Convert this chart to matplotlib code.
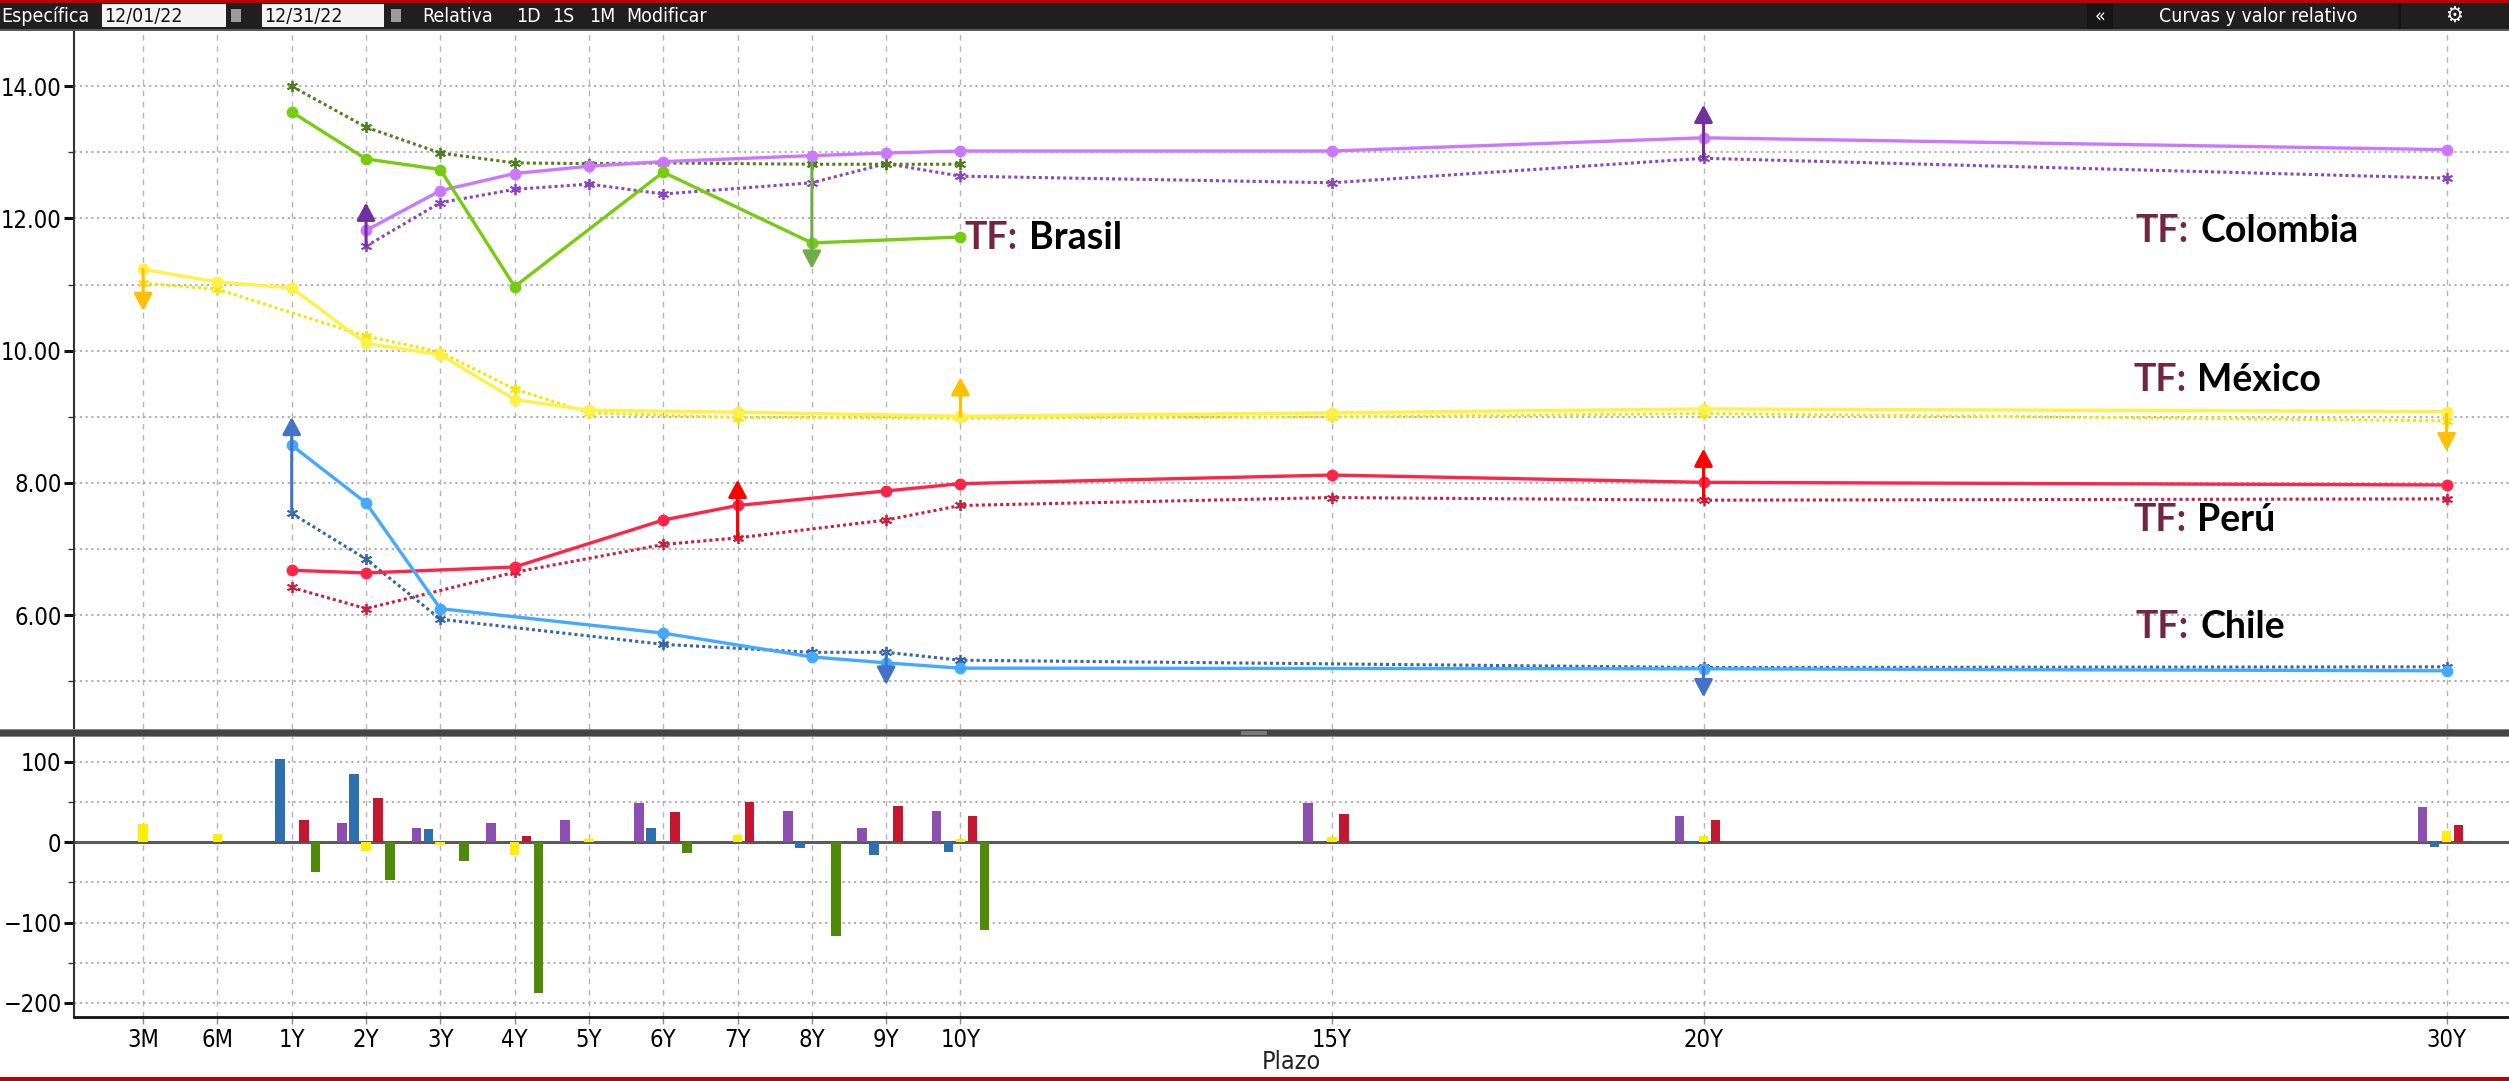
import matplotlib
matplotlib.use('Agg')
import matplotlib.pyplot as plt
from matplotlib import font_manager
from matplotlib.patches import Rectangle
from matplotlib.ticker import FixedLocator, FormatStrFormatter, NullFormatter

# --- datos ---
plazos = ['3M', '6M', '1Y', '2Y', '3Y', '4Y', '5Y', '6Y', '7Y', '8Y', '9Y', '10Y', '15Y', '20Y', '30Y']
plazo_pos = [-1, 0, 1, 2, 3, 4, 5, 6, 7, 8, 9, 10, 15, 20, 30]

colombia_tenores = ['2Y', '3Y', '4Y', '5Y', '6Y', '8Y', '9Y', '10Y', '15Y', '20Y', '30Y']
colombia_actual = [11.82, 12.42, 12.68, 12.79, 12.86, 12.95, 12.99, 13.02, 13.02, 13.22, 13.04]
colombia_previo = [11.58, 12.24, 12.44, 12.52, 12.37, 12.54, 12.83, 12.64, 12.54, 12.91, 12.61]

brasil_tenores = ['1Y', '2Y', '3Y', '4Y', '6Y', '8Y', '10Y']
brasil_actual = [13.61, 12.90, 12.74, 10.97, 12.70, 11.63, 11.72]
brasil_tenores_previo = ['1Y', '2Y', '3Y', '4Y', '5Y', '6Y', '8Y', '9Y', '10Y']
brasil_previo = [14.00, 13.38, 12.99, 12.84, 12.83, 12.84, 12.82, 12.82, 12.82]

mexico_tenores = ['3M', '6M', '1Y', '2Y', '3Y', '4Y', '5Y', '7Y', '10Y', '15Y', '20Y', '30Y']
mexico_actual = [11.23, 11.04, 10.95, 10.11, 9.94, 9.26, 9.10, 9.07, 9.01, 9.06, 9.12, 9.08]
mexico_tenores_previo = ['3M', '6M', '2Y', '3Y', '4Y', '5Y', '7Y', '10Y', '15Y', '20Y', '30Y']
mexico_previo = [11.02, 10.93, 10.22, 9.98, 9.42, 9.06, 8.99, 8.98, 9.00, 9.05, 8.94]

peru_tenores = ['1Y', '2Y', '4Y', '6Y', '7Y', '9Y', '10Y', '15Y', '20Y', '30Y']
peru_actual = [6.68, 6.64, 6.73, 7.44, 7.66, 7.88, 7.99, 8.12, 8.01, 7.97]
peru_previo = [6.42, 6.10, 6.65, 7.07, 7.17, 7.44, 7.66, 7.78, 7.74, 7.76]

chile_tenores = ['1Y', '2Y', '3Y', '6Y', '8Y', '9Y', '10Y', '20Y', '30Y']
chile_actual = [8.57, 7.70, 6.10, 5.73, 5.37, 5.28, 5.20, 5.19, 5.16]
chile_previo = [7.54, 6.85, 5.94, 5.56, 5.44, 5.44, 5.32, 5.21, 5.22]

# cambios en pb (panel inferior)
pb_colombia_tenores = ['2Y', '3Y', '4Y', '5Y', '6Y', '8Y', '9Y', '10Y', '15Y', '20Y', '30Y']
pb_colombia = [24, 17, 24, 27, 49, 39, 17, 39, 49, 32, 44]
pb_chile_tenores = ['1Y', '2Y', '3Y', '6Y', '8Y', '9Y', '10Y', '20Y', '30Y']
pb_chile = [104, 85, 16, 17, -7, -16, -12, -2.5, -6]
pb_mexico_tenores = ['3M', '6M', '2Y', '3Y', '4Y', '5Y', '7Y', '10Y', '15Y', '20Y', '30Y']
pb_mexico = [22, 10, -11, -4, -16, 4, 9, 4, 6, 7.5, 14]
pb_peru_tenores = ['1Y', '2Y', '4Y', '6Y', '7Y', '9Y', '10Y', '15Y', '20Y', '30Y']
pb_peru = [27, 55, 7.5, 37, 50, 45, 32, 35, 27, 21]
pb_brasil_tenores = ['1Y', '2Y', '3Y', '4Y', '6Y', '8Y', '10Y']
pb_brasil = [-37, -47, -24, -188, -14, -117, -109]

# flechas de anotacion: plazo, desde, hasta
flecha_tenores = ['3M', '10Y', '30Y', '2Y', '20Y', '1Y', '9Y', '20Y', '7Y', '20Y', '8Y']
flecha_desde = [11.23, 9.01, 9.04, 11.58, 12.91, 7.54, 5.44, 5.21, 7.17, 7.74, 12.83]
flecha_hasta = [10.60, 9.60, 8.48, 12.24, 13.72, 9.00, 4.95, 4.76, 8.05, 8.52, 11.24]
flecha_colores = ['#FFC000', '#FFC000', '#FFC000', '#7030A0', '#7030A0', '#4472C4',
                  '#4472C4', '#4472C4', '#FF0000', '#FF0000', '#70AD47']

pos = dict(zip(plazos, plazo_pos))


def px(tenores):
    return [pos[t] for t in tenores]


# fuente estrecha para ejes (tipo terminal), con alternativas
fuentes = font_manager.fontManager.ttflist
nombres = {f.name for f in fuentes}
estirado = 'normal'
if 'Liberation Sans Narrow' in nombres:
    fuente_ui = 'Liberation Sans Narrow'
elif any(f.name == 'DejaVu Sans' and f.stretch == 'condensed' for f in fuentes):
    fuente_ui = 'DejaVu Sans'
    estirado = 'condensed'
else:
    fuente_ui = 'Roboto' if 'Roboto' in nombres else 'DejaVu Sans'
fuente_tf = 'Lato' if 'Lato' in nombres else 'DejaVu Sans'
plt.rcParams['font.family'] = [fuente_ui, 'DejaVu Sans']
plt.rcParams['font.stretch'] = estirado

W, H = 2509, 1081
fig = plt.figure(figsize=(W / 100, H / 100), dpi=100)
fig.patch.set_facecolor('white')


def fy(ypix):
    return 1 - ypix / H


izq = 74 / W
ax1 = fig.add_axes([izq, fy(729), 1 - izq, fy(30) - fy(729)])
ax2 = fig.add_axes([izq, fy(1017), 1 - izq, fy(736) - fy(1017)], sharex=ax1)

xlim = (-1.93, 30.84)

# --- panel superior: curvas ---
series = [
    (mexico_tenores, mexico_actual, mexico_tenores_previo, mexico_previo, '#fff04a', '#f5e600'),
    (colombia_tenores, colombia_actual, colombia_tenores, colombia_previo, '#cc77ff', '#8e44c0'),
    (brasil_tenores, brasil_actual, brasil_tenores_previo, brasil_previo, '#77cc11', '#4d7f1a'),
    (peru_tenores, peru_actual, peru_tenores, peru_previo, '#ff2448', '#c8203f'),
    (chile_tenores, chile_actual, chile_tenores, chile_previo, '#44aaff', '#3366aa'),
]
for ten, act, ten_p, prev, c_act, c_prev in series:
    ax1.plot(px(ten_p), prev, linestyle=(0, (1, 1)), color=c_prev, lw=2.2,
             marker=(6, 2, 0), markersize=8, markeredgewidth=1.3, zorder=3)
    ax1.plot(px(ten), act, '-', color=c_act, lw=2.4, marker='o', markersize=7.5, zorder=4)

for t, a, b, c in zip(flecha_tenores, flecha_desde, flecha_hasta, flecha_colores):
    ax1.annotate('', xy=(pos[t], b), xytext=(pos[t], a),
                 arrowprops=dict(arrowstyle='-|>,head_length=0.75,head_width=0.4',
                                 color=c, lw=2.2, mutation_scale=14,
                                 shrinkA=0, shrinkB=0), zorder=5)

ax1.set_xlim(*xlim)
ax1.set_ylim(4.28, 14.85)
ax1.yaxis.set_major_locator(FixedLocator([6, 8, 10, 12, 14]))
ax1.yaxis.set_minor_locator(FixedLocator([5, 7, 9, 11, 13]))
ax1.yaxis.set_major_formatter(FormatStrFormatter('%.2f'))
ax1.yaxis.set_minor_formatter(NullFormatter())
ax1.tick_params(axis='x', which='both', length=0, labelbottom=False)

# etiquetas TF
etiquetas = [('Brasil', 10.06, 11.70), ('Colombia', 25.82, 11.81), ('México', 25.78, 9.56),
             ('Perú', 25.78, 7.44), ('Chile', 25.82, 5.82)]
for nombre, x, y in etiquetas:
    t1 = ax1.text(x, y, 'TF:', color='#722642', fontsize=27, fontweight='bold',
                  family=fuente_tf, fontstretch='normal', va='center', ha='left', zorder=6)
    ax1.annotate(nombre, xy=(1, 0), xycoords=t1, xytext=(8, 0), textcoords='offset points',
                 color='black', fontsize=27, fontweight='bold', family=fuente_tf,
                 fontstretch='normal', va='bottom', ha='left', zorder=6)

# --- panel inferior: barras ---
ancho = 0.13
paso = 0.161
barras = [
    (pb_colombia_tenores, pb_colombia, -2, '#8a4fb0'),
    (pb_chile_tenores, pb_chile, -1, '#2e6fad'),
    (pb_mexico_tenores, pb_mexico, 0, '#ffee00'),
    (pb_peru_tenores, pb_peru, 1, '#c4162e'),
    (pb_brasil_tenores, pb_brasil, 2, '#4f8a0b'),
]
for ten, vals, k, c in barras:
    xs = [p + k * paso for p in px(ten)]
    ax2.bar(xs, vals, width=ancho, color=c, zorder=3)
ax2.axhline(0, color='#5a5a5a', lw=2.2, zorder=2)

ax2.set_ylim(-217.5, 132)
ax2.yaxis.set_major_locator(FixedLocator([-200, -100, 0, 100]))
ax2.yaxis.set_minor_locator(FixedLocator([-150, -50, 50]))
ax2.yaxis.set_minor_formatter(NullFormatter())
ax2.set_xticks(plazo_pos)
ax2.set_xticklabels(plazos)
ax2.tick_params(axis='x', which='major', length=5, width=1, color='#888888',
                labelsize=17, pad=3)

for ax in (ax1, ax2):
    ax.set_facecolor('white')
    ax.grid(axis='x', which='major', linestyle=(0, (4, 4)), color='#b4b4b4', lw=1, zorder=0)
    ax.grid(axis='y', which='both', linestyle=(0, (1.2, 2)), color='#a8a8a8', lw=1.3, zorder=0)
    ax.tick_params(axis='y', which='major', length=7, width=2.2, direction='out',
                   color='#111111', labelsize=17, pad=2)
    ax.tick_params(axis='y', which='minor', length=4, width=1, color='#333333')
    for s in ('top', 'right'):
        ax.spines[s].set_visible(False)
    ax.spines['left'].set_color('#333333')
    ax.spines['left'].set_linewidth(1.5)
ax1.spines['bottom'].set_visible(False)
ax2.spines['bottom'].set_color('#111111')
ax2.spines['bottom'].set_linewidth(2)


# --- barra superior y separadores ---
def rect(x0, y0, x1, y1, color, z=10):
    fig.patches.append(Rectangle((x0 / W, fy(y1)), (x1 - x0) / W, (y1 - y0) / H,
                                 transform=fig.transFigure, facecolor=color,
                                 edgecolor='none', zorder=z))


rect(0, 0, W, 30, '#1f1f1f')
rect(0, 0, W, 3, '#c40000', 11)
rect(0, 29, W, 31, '#5a5a5a', 11)
rect(0, 729, W, 737, '#444444', 11)
rect(0, 729, W, 730, '#888888', 12)
rect(0, 736, W, 737, '#888888', 12)
rect(1241, 731, 1267, 735, '#7a7a7a', 12)
rect(0, 1077, W, H, '#c40000', 11)
rect(102, 4, 226, 27, '#f4f4f4', 11)
rect(262, 4, 384, 27, '#f4f4f4', 11)
rect(231, 9, 241, 22, '#9a9a9a', 11)
rect(391, 9, 401, 22, '#9a9a9a', 11)
rect(2087, 3, 2113, 29, '#161616', 11)
rect(2398, 3, 2401, 29, '#161616', 11)


def ftexto(x, y, s, color='white', size=14, ha='left', **kw):
    fig.text(x / W, fy(y), s, color=color, fontsize=size, ha=ha, va='center', zorder=13, **kw)


ftexto(1, 16, 'Específica')
ftexto(104, 16, '12/01/22', color='#111111')
ftexto(264, 16, '12/31/22', color='#111111')
ftexto(422, 16, 'Relativa')
ftexto(516, 16, '1D')
ftexto(552, 16, '1S')
ftexto(589, 16, '1M')
ftexto(626, 16, 'Modificar')
ftexto(2100, 16, '«', ha='center')
ftexto(2258, 16, 'Curvas y valor relativo', ha='center')
ftexto(2454, 16, '⚙', ha='center', size=16, family='DejaVu Sans')

# etiqueta del eje x
ftexto(1291, 1062, 'Plazo', color='#222222', size=18, ha='center')

fig.savefig('out.png', dpi=100)
